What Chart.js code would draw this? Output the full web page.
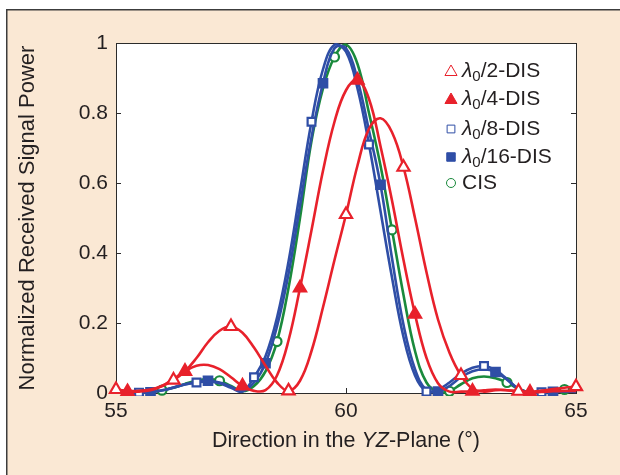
<!DOCTYPE html>
<html>
<head>
<meta charset="utf-8">
<script src="https://cdn.jsdelivr.net/npm/chart.js@4/dist/chart.umd.min.js"></script>
<style>
  html, body { margin: 0; padding: 0; background: #fff; }
  #wrap { width: 620px; height: 475px; }
</style>
</head>
<body>
<div id="wrap"><canvas id="chart" width="620" height="475"></canvas></div>
<script>
// angle grid (deg) and normalized power
const angles = [55, 55.25, 55.5, 55.75, 56, 56.25, 56.5, 56.75, 57, 57.25, 57.5, 57.75,
  58, 58.25, 58.5, 58.75, 59, 59.25, 59.5, 59.75, 60, 60.25, 60.5, 60.75, 61, 61.25,
  61.5, 61.75, 62, 62.25, 62.5, 62.75, 63, 63.25, 63.5, 63.75, 64, 64.25, 64.5, 64.75, 65];

const lam2 = [0.010, 0.006, 0.006, 0.010, 0.020, 0.037, 0.062, 0.100, 0.145, 0.178, 0.190, 0.172,
  0.130, 0.078, 0.030, 0.006, 0.035, 0.120, 0.245, 0.380, 0.510, 0.650, 0.755, 0.785, 0.745, 0.645,
  0.500, 0.345, 0.210, 0.115, 0.050, 0.012, 0.004, 0.008, 0.008, 0.005, 0.004, 0.007, 0.011, 0.015, 0.018];

const lam4 = [0.008, 0.004, 0.004, 0.008, 0.020, 0.040, 0.062, 0.078, 0.080, 0.068, 0.045, 0.020,
  0.006, 0.008, 0.050, 0.150, 0.300, 0.465, 0.635, 0.775, 0.865, 0.894, 0.840, 0.705, 0.550, 0.380,
  0.225, 0.100, 0.028, 0.004, 0.004, 0.005, 0.008, 0.010, 0.008, 0.004, 0.002, 0.003, 0.005, 0.006, 0.006];

const lam8 = [0.006, 0.002, 0.001, 0.003, 0.008, 0.016, 0.025, 0.030, 0.033, 0.028, 0.015, 0.004,
  0.045, 0.105, 0.215, 0.375, 0.575, 0.775, 0.925, 0.995, 0.975, 0.870, 0.710, 0.520, 0.330, 0.160,
  0.050, 0.004, 0.010, 0.030, 0.055, 0.072, 0.077, 0.065, 0.040, 0.012, 0.002, 0.002, 0.004, 0.005, 0.004];

const lam16 = [0.005, 0.002, 0.001, 0.002, 0.007, 0.015, 0.024, 0.031, 0.035, 0.030, 0.018, 0.005,
  0.030, 0.085, 0.190, 0.340, 0.535, 0.730, 0.885, 0.985, 0.985, 0.895, 0.750, 0.595, 0.385, 0.195,
  0.068, 0.008, 0.004, 0.020, 0.045, 0.062, 0.068, 0.060, 0.038, 0.012, 0.002, 0.002, 0.003, 0.004, 0.003];

const cis = [0.010, 0.004, 0.002, 0.004, 0.008, 0.015, 0.026, 0.035, 0.040, 0.035, 0.020, 0.005,
  0.020, 0.062, 0.147, 0.300, 0.500, 0.720, 0.870, 0.960, 0.995, 0.940, 0.800, 0.650, 0.466, 0.280,
  0.120, 0.030, 0.003, 0.005, 0.025, 0.042, 0.047, 0.042, 0.030, 0.012, 0.002, 0.004, 0.008, 0.010, 0.010];

const xTicks = [55, 60, 65];
const yTicks = [0, 0.2, 0.4, 0.6, 0.8, 1];

const RED = '#e8212b';
const BLUE = '#2f4ea6';
const GREEN = '#1a8a3c';
const BEIGE = '#fae8d4';
const INK = '#231f20';
const FONT = '"Liberation Sans", Arial, sans-serif';

// series setup: which grid index carries a marker (every 5th, shifted per series)
const series = [
  { sub: '/2-DIS', data: lam2, color: RED, style: 'triangle', fill: '#fff', r: 7, offset: 0 },
  { sub: '/4-DIS', data: lam4, color: RED, style: 'triangle', fill: RED, r: 7, offset: 1 },
  { sub: '/8-DIS', data: lam8, color: BLUE, style: 'rect', fill: '#fff', r: 5.5, offset: 2 },
  { sub: '/16-DIS', data: lam16, color: BLUE, style: 'rect', fill: BLUE, r: 6, offset: 3 },
  { sub: null, label: 'CIS', data: cis, color: GREEN, style: 'circle', fill: '#fff', r: 4.5, offset: 4 }
];

const legendRows = [71, 99, 129, 157, 183];

const framePlugin = {
  id: 'frame',
  beforeDraw(chart) {
    const { ctx, chartArea: a } = chart;
    ctx.save();
    ctx.fillStyle = '#fff';
    ctx.fillRect(0, 0, chart.width, chart.height);
    ctx.fillStyle = BEIGE;
    ctx.fillRect(6, 9, chart.width - 6, chart.height - 9);
    ctx.strokeStyle = '#3c3c3c';
    ctx.lineWidth = 1.5;
    ctx.beginPath();
    ctx.moveTo(6.75, chart.height);
    ctx.lineTo(6.75, 9.75);
    ctx.lineTo(chart.width, 9.75);
    ctx.stroke();
    ctx.fillStyle = '#fff';
    ctx.fillRect(a.left, a.top, a.right - a.left, a.bottom - a.top);
    ctx.restore();
  },
  beforeDatasetsDraw(chart) {
    const { ctx, chartArea: a, scales } = chart;
    ctx.save();
    ctx.strokeStyle = '#2b2b2b';
    ctx.lineWidth = 1;
    ctx.strokeRect(a.left + 0.5, a.top + 0.5, a.right - a.left, a.bottom - a.top);
    ctx.beginPath();
    yTicks.forEach(v => {
      const y = Math.round(scales.y.getPixelForValue(v)) + 0.5;
      ctx.moveTo(a.left, y); ctx.lineTo(a.left + 5, y);
      ctx.moveTo(a.right, y); ctx.lineTo(a.right - 5, y);
    });
    xTicks.forEach(v => {
      const x = Math.round(scales.x.getPixelForValue(v)) + 0.5;
      ctx.moveTo(x, a.bottom); ctx.lineTo(x, a.bottom - 5);
      ctx.moveTo(x, a.top); ctx.lineTo(x, a.top + 5);
    });
    ctx.stroke();
    ctx.restore();
  },
  afterDraw(chart) {
    const { ctx, chartArea: a } = chart;
    ctx.save();
    ctx.fillStyle = INK;
    ctx.textBaseline = 'middle';

    // y title
    ctx.save();
    ctx.translate(28, (a.top + a.bottom) / 2);
    ctx.rotate(-Math.PI / 2);
    ctx.font = '22px ' + FONT;
    ctx.textAlign = 'center';
    ctx.fillText('Normalized Received Signal Power', 0, 0);
    ctx.restore();

    // x title with italic YZ
    const parts = [['Direction in the ', ''], ['YZ', 'italic '], ['-Plane (°)', '']];
    let w = 0;
    parts.forEach(p => { ctx.font = p[1] + '21.5px ' + FONT; w += ctx.measureText(p[0]).width; });
    let x = (a.left + a.right) / 2 - w / 2;
    ctx.textAlign = 'left';
    parts.forEach(p => {
      ctx.font = p[1] + '21.5px ' + FONT;
      ctx.fillText(p[0], x, 441);
      x += ctx.measureText(p[0]).width;
    });

    // legend
    series.forEach((s, i) => {
      const y = legendRows[i];
      ctx.fillStyle = s.fill;
      ctx.strokeStyle = s.color;
      Chart.helpers.drawPoint(ctx, { pointStyle: s.style, radius: s.r, rotation: 0, borderWidth: 2.2 }, 451, y + (s.style === 'triangle' ? 1 : 0));
      ctx.fillStyle = INK;
      let tx = 462;
      if (s.sub) {
        ctx.font = 'italic 21px ' + FONT;
        ctx.fillText('λ', tx, y);
        tx += ctx.measureText('λ').width;
        ctx.font = '15px ' + FONT;
        ctx.fillText('0', tx, y + 6);
        tx += ctx.measureText('0').width;
        ctx.font = '21px ' + FONT;
        ctx.fillText(s.sub, tx, y);
      } else {
        ctx.font = '21px ' + FONT;
        ctx.fillText(s.label, tx, y);
      }
    });
    ctx.restore();
  }
};

const datasets = series.map(s => ({
  data: angles.map((a, i) => ({ x: a, y: s.data[i] })),
  borderColor: s.color,
  borderWidth: 2.6,
  tension: 0.4,
  pointStyle: s.style,
  pointRadius: c => (c.index % 5 === s.offset ? s.r : 0),
  pointHoverRadius: 0,
  pointBackgroundColor: s.fill,
  pointBorderColor: s.color,
  pointBorderWidth: 2.2,
  clip: { left: 10, right: 10, top: 3, bottom: 3 }
}));

Chart.defaults.font.family = FONT;
Chart.defaults.font.size = 21;
Chart.defaults.color = INK;

new Chart(document.getElementById('chart'), {
  type: 'line',
  data: { datasets },
  options: {
    responsive: false,
    animation: false,
    events: [],
    layout: { padding: { top: 43, right: 44, left: 0, bottom: 0 } },
    plugins: { legend: { display: false }, tooltip: { enabled: false } },
    scales: {
      x: {
        type: 'linear', min: 55, max: 65,
        grid: { display: false, drawTicks: false },
        border: { display: false },
        afterBuildTicks: s => { s.ticks = xTicks.map(v => ({ value: v })); },
        afterFit: s => { s.height = 82; },
        ticks: { padding: 6, maxRotation: 0, callback: v => String(v) }
      },
      y: {
        min: 0, max: 1,
        grid: { display: false, drawTicks: false },
        border: { display: false },
        afterBuildTicks: s => { s.ticks = yTicks.map(v => ({ value: v })); },
        afterFit: s => { s.width = 116; },
        ticks: { padding: 8, callback: v => String(v) }
      }
    }
  },
  plugins: [framePlugin]
});
</script>
</body>
</html>
